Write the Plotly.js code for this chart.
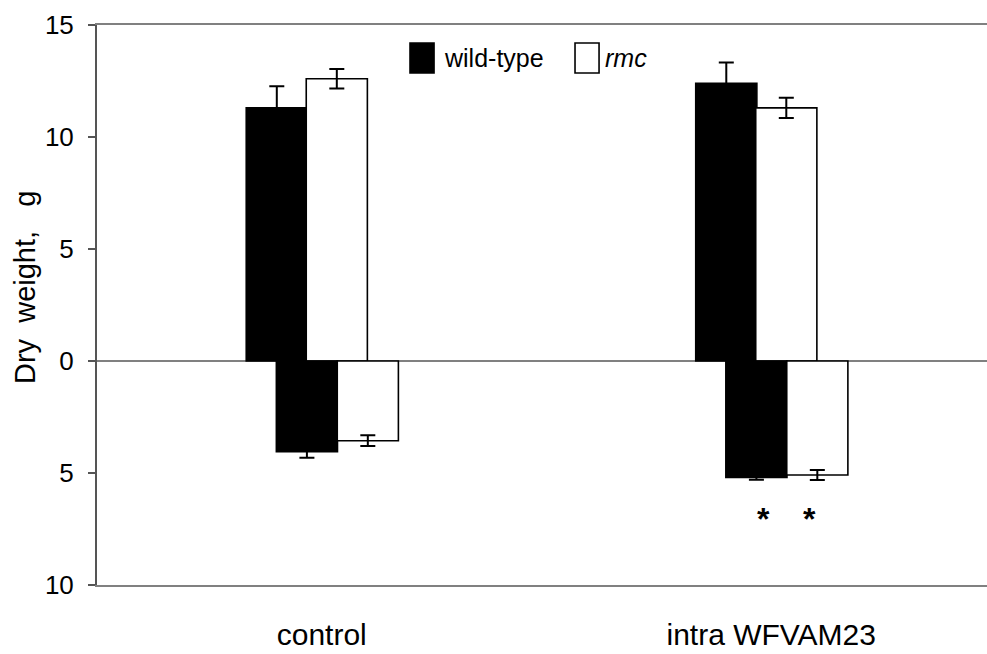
<!DOCTYPE html>
<html>
<head>
<meta charset="utf-8">
<script src="https://cdn.plot.ly/plotly-3.0.1.min.js"></script>
<style>
html, body { margin: 0; padding: 0; background: #fff; }
#chart { width: 987px; height: 654px; }
</style>
</head>
<body>
<div id="chart"></div>
<script>
// ---- data ----
const categories = ['control', 'intra WFVAM23'];
const seriesNames = ['wild-type', '<i>rmc</i>'];
const seriesColors = ['#000', '#fff'];
// shoot dry weight (above zero), g
const shootWT = [11.3, 12.4];
const shootWTErr = [0.97, 0.93];
const shootRMC = [12.6, 11.3];
const shootRMCErr = [0.44, 0.45];
// root dry weight (plotted below zero), g
const rootWT = [4.05, 5.2];
const rootWTErr = [0.27, 0.1];
const rootRMC = [3.56, 5.09];
const rootRMCErr = [0.24, 0.22];
// significance marks for roots
const rootWTSig = ['', '*'];
const rootRMCSig = ['', '*'];
// y-axis ticks
const yTickVals = [-10, -5, 0, 5, 10, 15];
const yTickText = ['10', '5', '0', '5', '10', '15'];
const yTitle = 'Dry  weight,   g';

const FONT = '"Liberation Sans", Arial, sans-serif';
const W = 0.136;
const neg = a => a.map(v => -v);

function barTrace(y, err, color, name, offset) {
  return {
    type: 'bar',
    x: categories,
    y: y,
    name: name,
    showlegend: false,
    width: W,
    offset: offset,
    marker: { color: color, line: { color: '#000', width: 1.6 } },
    error_y: { type: 'data', array: err, visible: true, color: '#000', thickness: 2, width: 7.5 },
    hoverinfo: 'skip'
  };
}

const data = [
  barTrace(shootWT, shootWTErr, seriesColors[0], seriesNames[0], -0.168),
  barTrace(shootRMC, shootRMCErr, seriesColors[1], seriesNames[1], -0.0345),
  barTrace(neg(rootWT), rootWTErr, seriesColors[0], seriesNames[0], -0.101),
  barTrace(neg(rootRMC), rootRMCErr, seriesColors[1], seriesNames[1], 0.0345)
];

const annotations = [];
categories.forEach((c, i) => {
  if (rootWTSig[i]) annotations.push({
    x: i - 0.017, y: -(rootWT[i] + 1.6), xref: 'x', yref: 'y', yshift: -6, text: '<b>' + rootWTSig[i] + '</b>',
    showarrow: false, font: { family: FONT, size: 32, color: '#000' }
  });
  if (rootRMCSig[i]) annotations.push({
    x: i + 0.086, y: -(rootWT[i] + 1.6), xref: 'x', yref: 'y', yshift: -6, text: '<b>' + rootRMCSig[i] + '</b>',
    showarrow: false, font: { family: FONT, size: 32, color: '#000' }
  });
});
// y-axis title
annotations.push({
  x: -0.081, y: 0.532, xref: 'paper', yref: 'paper', textangle: -90,
  text: yTitle, showarrow: false, xanchor: 'center', yanchor: 'middle',
  font: { family: FONT, size: 29, color: '#000' }
});
// legend (two entries)
const legX = [0.3517, 0.5371];
const legTextX = [0.3876, 0.5685];
const shapes = [];
seriesNames.forEach((n, k) => {
  shapes.push({
    type: 'rect', xref: 'paper', yref: 'paper',
    x0: legX[k], x1: legX[k] + 0.027, y0: 0.9143, y1: 0.9679,
    fillcolor: seriesColors[k], line: { color: '#000', width: 1.6 }
  });
  annotations.push({
    x: legTextX[k], y: 0.941, xref: 'paper', yref: 'paper', xanchor: 'left', yanchor: 'middle',
    text: n, showarrow: false, font: { family: FONT, size: 25, color: '#000' }
  });
});

const layout = {
  width: 987, height: 654,
  margin: { l: 97, r: 0, t: 25, b: 69, pad: 0 },
  paper_bgcolor: '#fff', plot_bgcolor: '#fff',
  font: { family: FONT, color: '#000', size: 24 },
  barmode: 'overlay',
  showlegend: false,
  xaxis: {
    type: 'category',
    range: [-0.5, 1.48],
    showline: true, linecolor: '#808080', linewidth: 2, mirror: true,
    ticks: '', showgrid: false, zeroline: false,
    tickfont: { family: FONT, size: 30, color: '#000' },
    ticklabelstandoff: 22
  },
  xaxis2: {
    overlaying: 'x', anchor: 'free', position: 0.4, type: 'linear',
    range: [-0.5, 1.48], tickvals: [0.5], showticklabels: false,
    ticks: 'outside', ticklen: 13, tickwidth: 1.5, tickcolor: '#000',
    showline: false, showgrid: false, zeroline: false
  },
  yaxis: {
    range: [-10, 15], tickvals: yTickVals, ticktext: yTickText,
    showline: true, linecolor: '#555', linewidth: 2,
    ticks: 'outside', ticklen: 7, tickcolor: '#555', tickwidth: 1.5,
    showgrid: false, zeroline: true, zerolinecolor: '#808080', zerolinewidth: 2,
    tickfont: { family: FONT, size: 26, color: '#000' },
    ticklabelstandoff: 9
  },
  shapes: shapes,
  annotations: annotations
};

Plotly.newPlot('chart', data, layout, { displayModeBar: false, staticPlot: true });
</script>
</body>
</html>
